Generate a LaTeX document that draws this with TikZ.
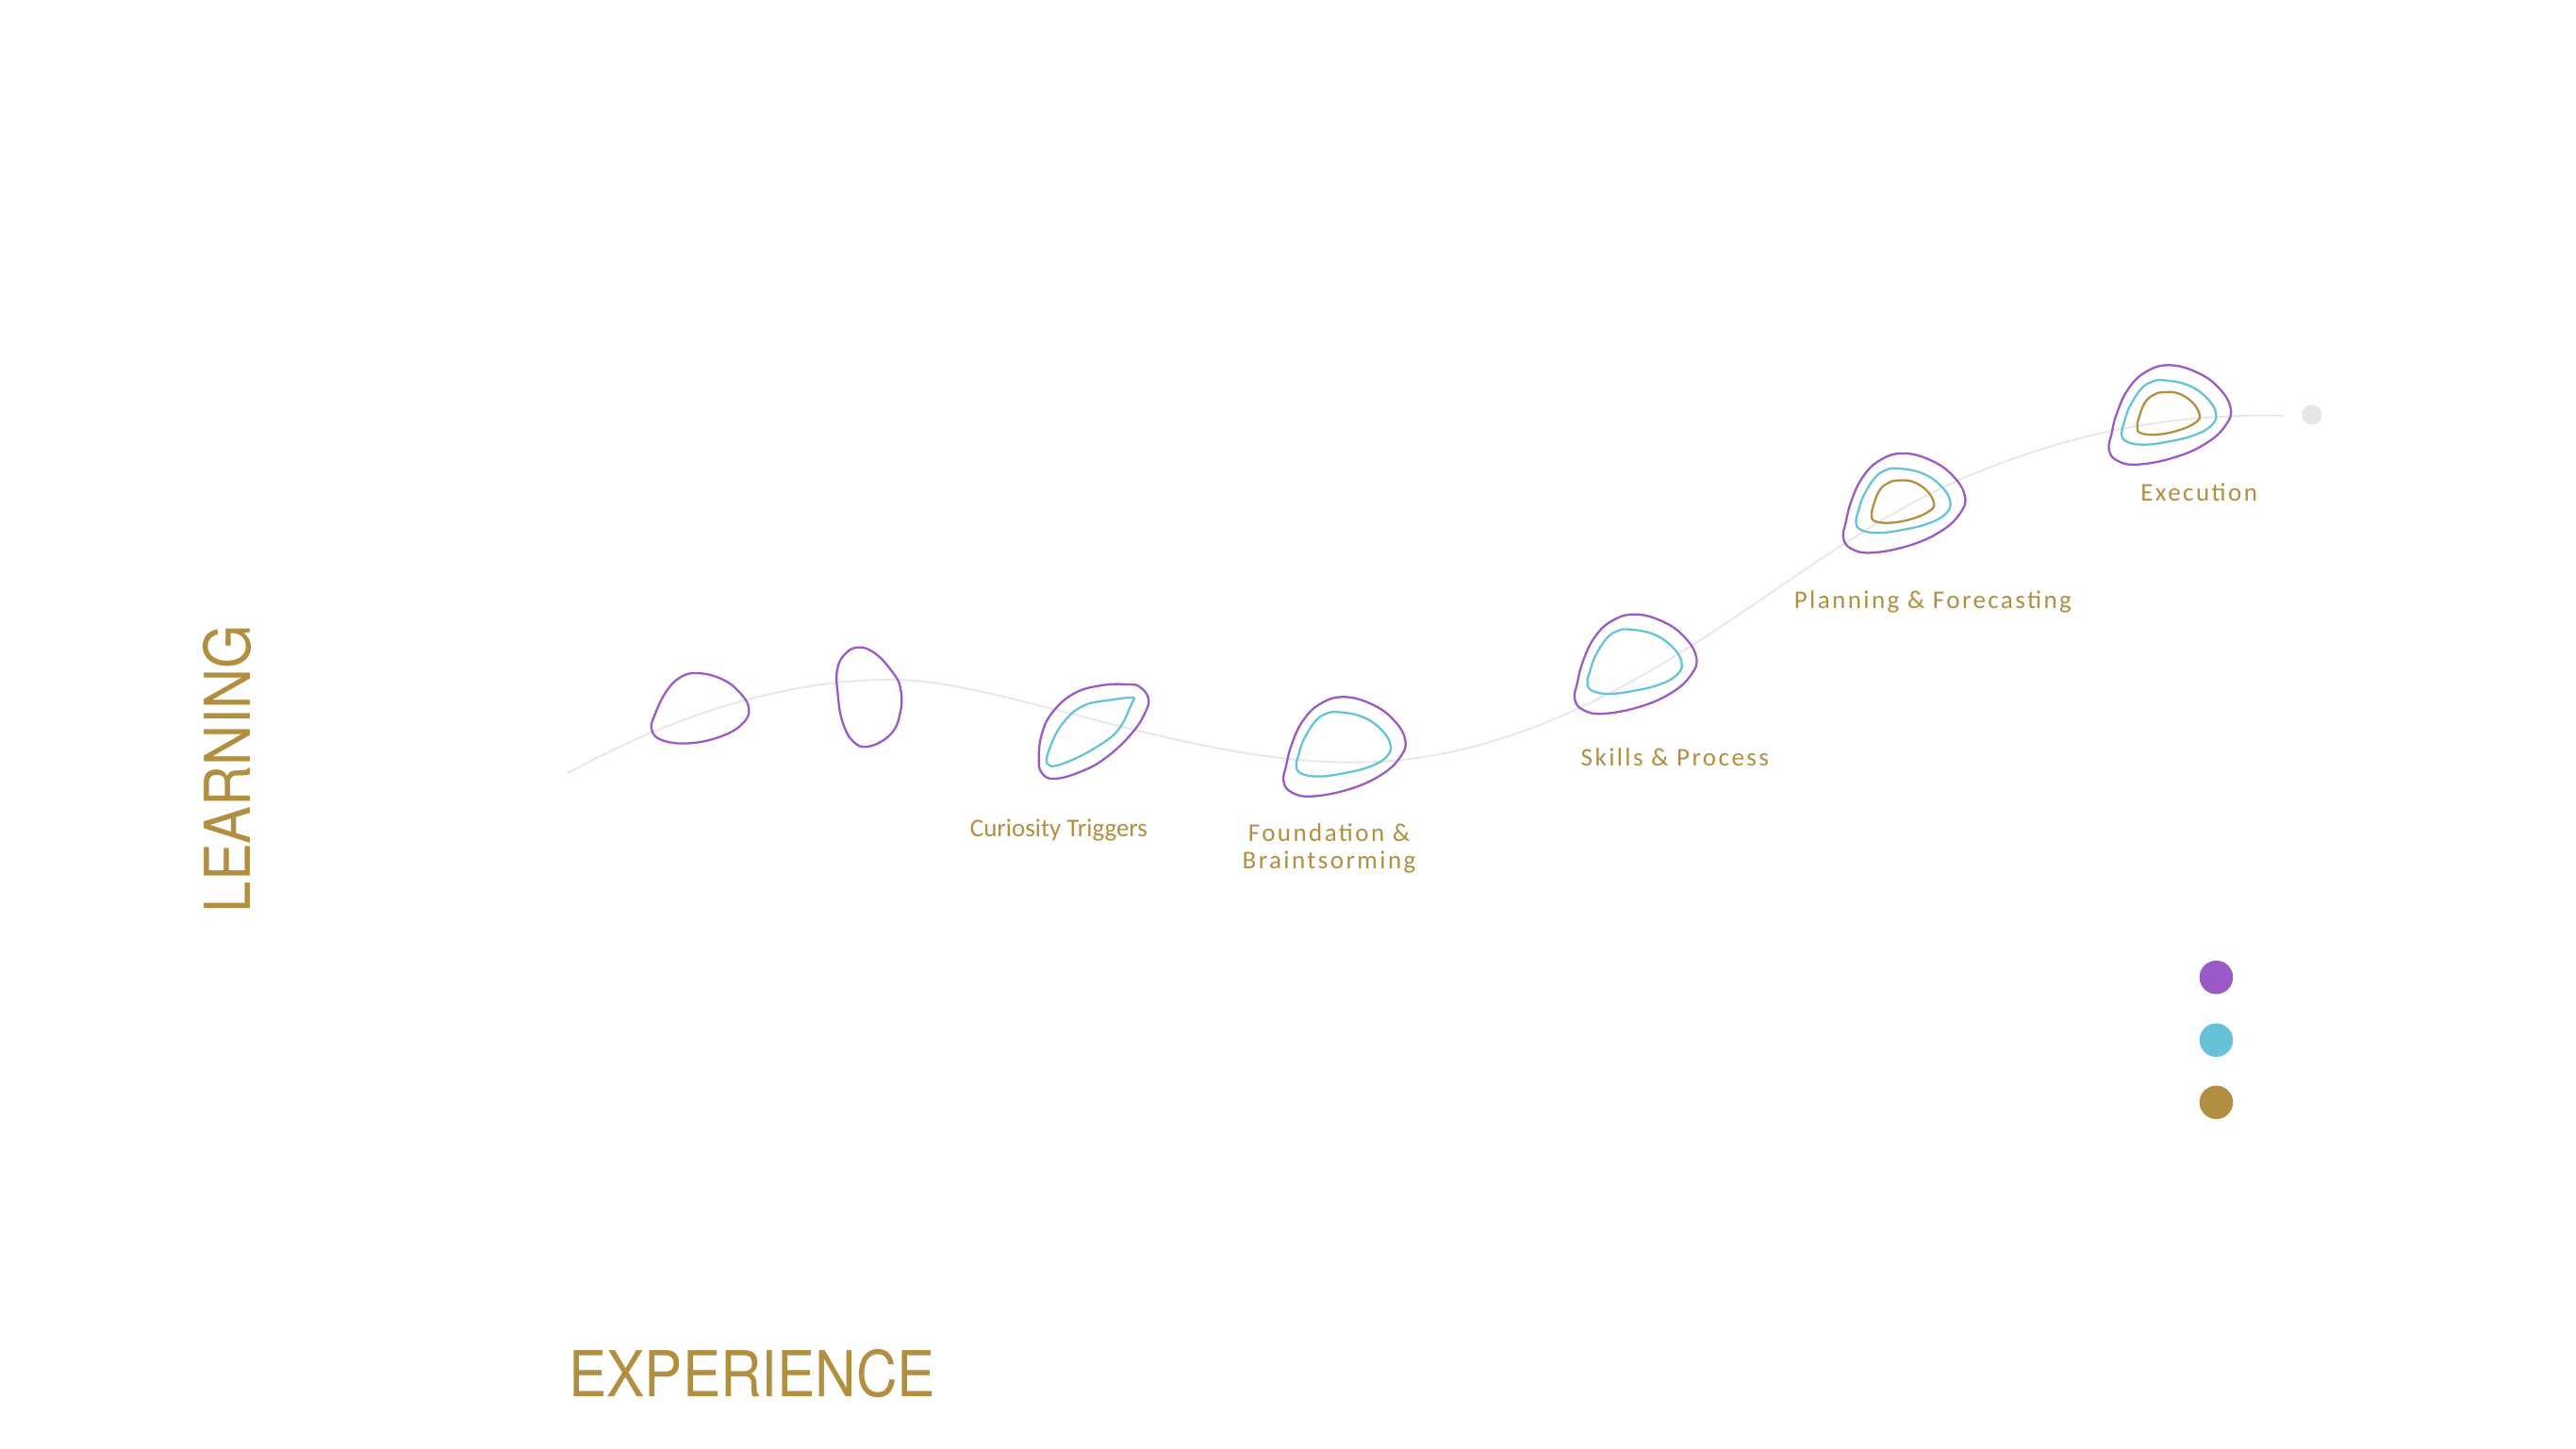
\documentclass[tikz,border=0pt]{standalone}
\usepackage{fontspec}
\usepackage{graphicx}
\setmainfont{Carlito}
\newfontfamily\stagefont[LetterSpace=9]{Carlito}
\newfontfamily\axisfont{TeX Gyre Heros}

\definecolor{pickpurple}{RGB}{155,89,197}
\definecolor{pickcyan}{RGB}{102,194,215}
\definecolor{pickgold}{RGB}{178,142,64}
\definecolor{trailgray}{RGB}{230,230,230}

\tikzset{
  pickline/.style={line width=1.3pt, line join=round},
  stagelabel/.style={text=pickgold, anchor=base, inner sep=0pt,
    font=\stagefont\fontsize{15.5}{17}\selectfont},
  axislabel/.style={text=pickgold, inner sep=0pt,
    font=\axisfont\fontsize{38.5}{40}\selectfont},
  legenddot/.style={circle, minimum size=20.4pt, inner sep=0pt}
}

% rounded pick outlines, drawn round a centre
\newcommand{\outerpick}[1]{%
  \draw[pickline, pickpurple, shift={#1}] plot[smooth cycle, tension=0.7] coordinates {
    (-0.9,-30.2) (16.3,-25.8) (29.7,-16.2) (36.8,-3.8) (33.5,6.7) (22,17.3) (2.9,25.9)
    (-20,30.3) (-32.5,27.8) (-37.3,21.1) (-35.7,11.5) (-32.5,-0.9) (-25.8,-15.3) (-15.3,-25.8)};}
\newcommand{\midpick}[1]{%
  \draw[pickline, pickcyan, shift={#1}] plot[smooth cycle, tension=0.7] coordinates {
    (-3.8,-21) (10.6,-18.1) (22,-10.5) (27.8,-0.9) (24.9,6.7) (14.4,12.5) (-0.9,16.3)
    (-16.2,18.2) (-26.7,16.3) (-29.6,11.5) (-28.1,4.8) (-24.8,-4.7) (-18.1,-15.3) (-11.4,-20)};}
\newcommand{\corepick}[1]{%
  \draw[pickline, pickgold, shift={#1}] plot[smooth cycle, tension=0.7] coordinates {
    (-3.8,-13.7) (4.8,-13) (13.4,-7.6) (17.8,0) (15.3,4.8) (4.8,9.6) (-8.6,12.1)
    (-18.1,11.1) (-20,7.7) (-19.1,2) (-15.3,-7.6) (-9.5,-12.4)};}

\begin{document}
\begin{tikzpicture}[x=1pt, y=-1pt]
  \fill[white] (0,0) rectangle (1568,882);
  \useasboundingbox (0,0) rectangle (1568,882);

  % Learning trail
  \coordinate (trailstart) at (345,471);
  \coordinate (trailstop) at (1390,253);
  \draw[trailgray, line width=1pt] (trailstart)
      .. controls (420,430) and (490,412) .. (550,414)
      .. controls (610,416) and (720,462) .. (815,464)
      .. controls (880,466) and (940,445) .. (1000,411)
      .. controls (1070,371) and (1130,318) .. (1200,289)
      .. controls (1270,260) and (1330,252) .. (trailstop);
  \node[circle, fill=trailgray, minimum size=12.2pt, inner sep=0pt] (trailend) at (1407.2,252.5) {};

  % First two loose picks
  \draw[pickline, pickpurple] plot[smooth cycle, tension=0.7] coordinates {
      (424.7,409.8) (439.1,413.3) (449.6,420.9) (455.9,431.4) (451.5,441) (438.1,448.6)
      (419,452.5) (402.7,450.5) (396.6,443.8) (398.9,434.3) (405.6,420.9) (414.2,412.3)};
  \draw[pickline, pickpurple] plot[smooth cycle, tension=0.7] coordinates {
      (522.3,394.1) (532.8,397.9) (543.4,409.4) (548.1,419) (548.1,433.3) (542.4,446.7)
      (529,454.4) (519.4,451.5) (512.7,439.1) (509.9,421.9) (509.5,408.5) (513.7,398.9)};

  % Curiosity pick
  \draw[pickline, pickpurple] plot[smooth cycle, tension=0.7] coordinates {
      (693.5,418) (698.9,424.7) (697.3,433.3) (688.7,446.7) (673.4,461.1) (658.1,469.7)
      (641.9,474.1) (634.2,470.6) (632.3,462) (634.2,446.7) (640.9,433.3) (654.3,421.9)
      (671.5,417.1) (686.8,416.7)};
  \draw[pickline, pickcyan] plot[smooth cycle, tension=0.55] coordinates {
      (689.7,424.7) (688.7,428.6) (683,441) (675.3,449.6) (658.1,460.1) (642.8,466.2)
      (637.5,464.9) (638,458.2) (643.8,444.8) (652.4,434.3) (662,428.6) (675.3,426.2)};

  % Nested picks
  \foreach \cx/\cy in {818.6/454.5, 995.8/404.2, 1159.3/306.2, 1321/252.5}{
    \outerpick{(\cx,\cy)}
    \midpick{(\cx,\cy)}
  }
  \foreach \cx/\cy in {1159.3/306.2, 1321/252.5}{
    \corepick{(\cx,\cy)}
  }

  % Stage labels
  \node[stagelabel, font=\fontsize{15.5}{17}\selectfont] (curiosity) at (644.5,509.2) {Curiosity Triggers};
  \node[stagelabel] (foundation) at (809,512.2) {Foundation \&};
  \node[stagelabel] (brainstorm) at (809,529) {Braintsorming};
  \node[stagelabel] (skills) at (1019.5,466.4) {Skills \& Process};
  \node[stagelabel] (planning) at (1176.5,370.2) {Planning \& Forecasting};
  \node[stagelabel] (execution) at (1338.5,305.2) {Execution};

  % Axis labels
  \node[axislabel, rotate=90, anchor=base] (learning) at (152.5,468) {\scalebox{0.89}[1]{LEARNING}};
  \node[axislabel, anchor=base west] (experience) at (346,850.4) {\scalebox{0.9}[1]{EXPERIENCE}};

  % Legend
  \foreach \col/\ly [count=\i] in {pickpurple/595, pickcyan/633.2, pickgold/671.1}
    \node[legenddot, fill=\col] (legend\i) at (1349,\ly) {};
\end{tikzpicture}
\end{document}
